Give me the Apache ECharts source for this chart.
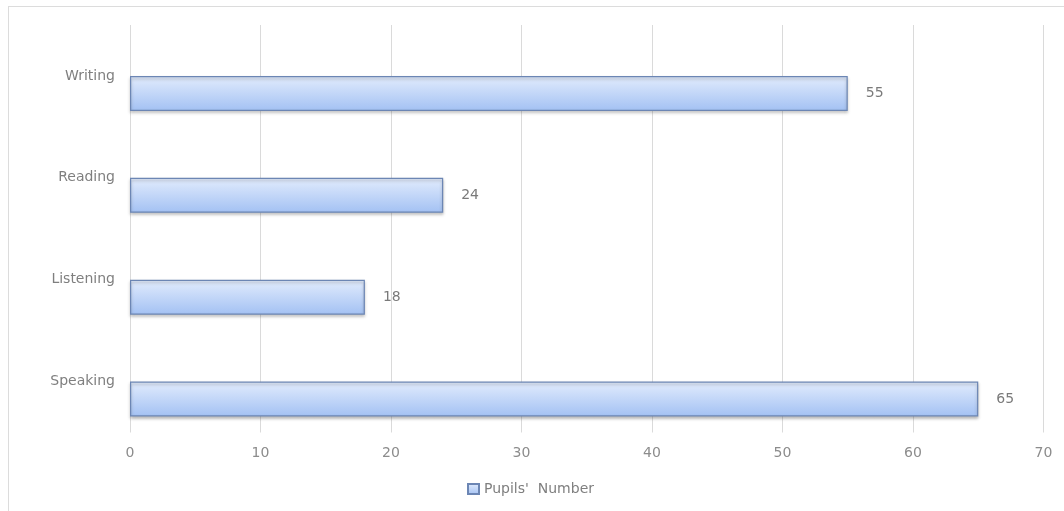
<!DOCTYPE html>
<html>
<head>
<meta charset="utf-8">
<script src="https://cdn.jsdelivr.net/npm/echarts@6/dist/echarts.min.js"></script>
<style>html,body{margin:0;padding:0;background:#fff}#chart{width:1064px;height:511px}</style>
</head>
<body>
<div id="chart"></div>
<script>
var categories = ['Speaking', 'Listening', 'Reading', 'Writing'];
var pupilsNumber = [65, 18, 24, 55];
var seriesName = "Pupils'  Number";
var xTicks = [0, 10, 20, 30, 40, 50, 60, 70];

var chart = echarts.init(document.getElementById('chart'), null, {renderer: 'canvas'});
var font = 'DejaVu Sans';
var barGradient = new echarts.graphic.LinearGradient(0, 0, 0, 1, [
  {offset: 0, color: '#e2ecfd'},
  {offset: 1, color: '#a3c1f3'}
]);
chart.setOption({
  animation: false,
  backgroundColor: '#ffffff',
  textStyle: {fontFamily: font},
  graphic: [
    {type: 'line', shape: {x1: 8, y1: 6.5, x2: 1064, y2: 6.5}, style: {stroke: '#dcdcdc', lineWidth: 1}, silent: true},
    {type: 'line', shape: {x1: 8.5, y1: 6, x2: 8.5, y2: 511}, style: {stroke: '#dcdcdc', lineWidth: 1}, silent: true}
  ],
  grid: {left: 130, right: 20.5, top: 25, bottom: 78.5, containLabel: false},
  legend: {
    data: [{name: seriesName, icon: 'rect'}],
    bottom: 10,
    left: 462,
    itemWidth: 11,
    itemHeight: 10,
    itemGap: 8,
    textStyle: {color: '#7f7f7f', fontSize: 14, fontFamily: font}
  },
  xAxis: {
    type: 'value',
    min: xTicks[0],
    max: xTicks[xTicks.length - 1],
    interval: xTicks[1] - xTicks[0],
    axisLine: {show: false},
    axisTick: {show: false},
    splitLine: {show: true, lineStyle: {color: '#dadada', width: 1}},
    axisLabel: {color: '#8c8c8c', fontSize: 14, margin: 14, fontFamily: font}
  },
  yAxis: {
    type: 'category',
    data: categories,
    axisLine: {show: false},
    axisTick: {show: false},
    splitLine: {show: false},
    axisLabel: {color: '#7f7f7f', fontSize: 14, margin: 15, fontFamily: font}
  },
  series: [
    {
      name: 'spacer',
      type: 'bar',
      data: categories.map(function () { return null; }),
      barWidth: 35,
      barGap: '0%',
      itemStyle: {color: 'rgba(0,0,0,0)'},
      silent: true
    },
    {
      name: seriesName,
      type: 'bar',
      data: pupilsNumber,
      barWidth: 35,
      barGap: '0%',
      itemStyle: {
        color: barGradient,
        borderColor: '#6c86b4',
        borderWidth: 1.2,
        shadowColor: 'rgba(60,60,60,0.35)',
        shadowBlur: 3,
        shadowOffsetY: 2
      },
      label: {
        show: true,
        position: 'right',
        distance: 18,
        color: '#7a7a7a',
        fontSize: 14,
        fontFamily: font
      }
    }
  ]
});
</script>
</body>
</html>
